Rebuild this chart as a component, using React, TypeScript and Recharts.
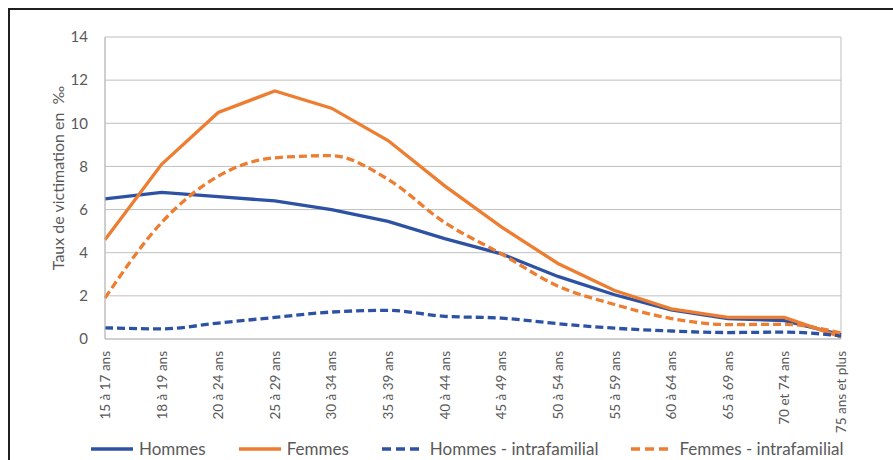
import { LineChart, Line, XAxis, YAxis, CartesianGrid } from 'recharts'

const categories = [
    '15 à 17 ans',
    '18 à 19 ans',
    '20 à 24 ans',
    '25 à 29 ans',
    '30 à 34 ans',
    '35 à 39 ans',
    '40 à 44 ans',
    '45 à 49 ans',
    '50 à 54 ans',
    '55 à 59 ans',
    '60 à 64 ans',
    '65 à 69 ans',
    '70 et 74 ans',
    '75 ans et plus',
]
const hommes = [6.5, 6.8, 6.6, 6.4, 6.0, 5.45, 4.65, 3.95, 2.9, 2.05, 1.35, 0.95, 0.85, 0.2]
const femmes = [4.6, 8.1, 10.5, 11.5, 10.7, 9.2, 7.1, 5.2, 3.5, 2.25, 1.4, 1.0, 1.0, 0.1]
const hommesIntra = [0.52, 0.47, 0.74, 1.0, 1.25, 1.33, 1.05, 0.97, 0.71, 0.5, 0.37, 0.3, 0.32, 0.15]
const femmesIntra = [1.9, 5.4, 7.55, 8.4, 8.5, 7.4, 5.4, 3.95, 2.45, 1.6, 0.95, 0.67, 0.68, 0.28]
const yTicks = [0, 2, 4, 6, 8, 10, 12, 14]

const series = [
    { key: 'hommes', name: 'Hommes', color: '#2E52A3', dashed: false },
    { key: 'femmes', name: 'Femmes', color: '#ED7D31', dashed: false },
    { key: 'hommesIntra', name: 'Hommes - intrafamilial', color: '#2E52A3', dashed: true },
    { key: 'femmesIntra', name: 'Femmes - intrafamilial', color: '#ED7D31', dashed: true },
]

const data = categories.map((age, i) => ({
    age,
    hommes: hommes[i],
    femmes: femmes[i],
    hommesIntra: hommesIntra[i],
    femmesIntra: femmesIntra[i],
}))

const FONT = 'Lato, "Liberation Sans", sans-serif'
const TEXT = '#595959'

// rotated category labels, read bottom to top
const AgeTick = (props: any) => {
    const { x, y, payload } = props
    const ty = y + 12
    return (
        <text
            x={x}
            y={ty}
            transform={`rotate(-90, ${x}, ${ty})`}
            textAnchor="end"
            dominantBaseline="central"
            fontSize={13.5}
            fontFamily={FONT}
            fill={TEXT}
        >
            {payload.value}
        </text>
    )
}

const YTitle = () => (
    <text
        x={57}
        y={178}
        transform="rotate(-90, 57, 178)"
        textAnchor="middle"
        dominantBaseline="central"
        fontSize={16}
        fontFamily={FONT}
        fill={TEXT}
    >
        {'Taux de victimation en \u00a0‰'}
    </text>
)

const LegendRow = () => (
    <div
        style={{
            position: 'absolute',
            left: 90,
            top: 438,
            display: 'flex',
            alignItems: 'center',
            fontFamily: FONT,
            fontSize: 17,
            color: TEXT,
            whiteSpace: 'nowrap',
        }}
    >
        {series.map((s) => (
            <div key={s.key} style={{ display: 'flex', alignItems: 'center', marginRight: 32 }}>
                <svg width={44} height={6} style={{ marginRight: 5 }}>
                    <line
                        x1={1}
                        y1={3}
                        x2={43}
                        y2={3}
                        stroke={s.color}
                        strokeWidth={3.5}
                        strokeDasharray={s.dashed ? '9 5' : undefined}
                    />
                </svg>
                <span>{s.name}</span>
            </div>
        ))}
    </div>
)

export default function App() {
    return (
        <div
            style={{
                position: 'absolute',
                left: 0,
                top: 0,
                width: 893,
                height: 460,
                overflow: 'hidden',
                background: '#fff',
            }}
        >
            <div
                style={{
                    position: 'absolute',
                    left: 8,
                    top: 8,
                    width: 950,
                    height: 500,
                    borderLeft: '2px solid #1f1f1f',
                    borderTop: '2px solid #1f1f1f',
                }}
            />
            <div style={{ position: 'absolute', left: 0, top: 0 }}>
                <LineChart
                    width={893}
                    height={460}
                    data={data}
                    margin={{ top: 37, right: 52, left: 55, bottom: 0 }}
                >
                    <CartesianGrid
                        stroke="#bfbfbf"
                        strokeWidth={1}
                        verticalCoordinatesGenerator={({ offset }: any) => [
                            offset.left,
                            offset.left + offset.width,
                        ]}
                    />
                    <XAxis
                        dataKey="age"
                        interval={0}
                        height={121}
                        tickLine={false}
                        tickSize={0}
                        tickMargin={0}
                        axisLine={{ stroke: '#bfbfbf' }}
                        tick={<AgeTick />}
                    />
                    <YAxis
                        width={50}
                        domain={[0, 14]}
                        ticks={yTicks}
                        tickLine={false}
                        tickSize={0}
                        tickMargin={17}
                        axisLine={{ stroke: '#bfbfbf' }}
                        tick={{ fontSize: 15, fontFamily: FONT, fill: TEXT }}
                        label={<YTitle />}
                    />
                    {series.map((s) => (
                        <Line
                            key={s.key}
                            dataKey={s.key}
                            name={s.name}
                            type={s.dashed ? 'monotone' : 'linear'}
                            stroke={s.color}
                            strokeWidth={3.3}
                            strokeDasharray={s.dashed ? '8 4' : undefined}
                            dot={false}
                            activeDot={false}
                            isAnimationActive={false}
                        />
                    ))}
                </LineChart>
            </div>
            <LegendRow />
        </div>
    )
}
